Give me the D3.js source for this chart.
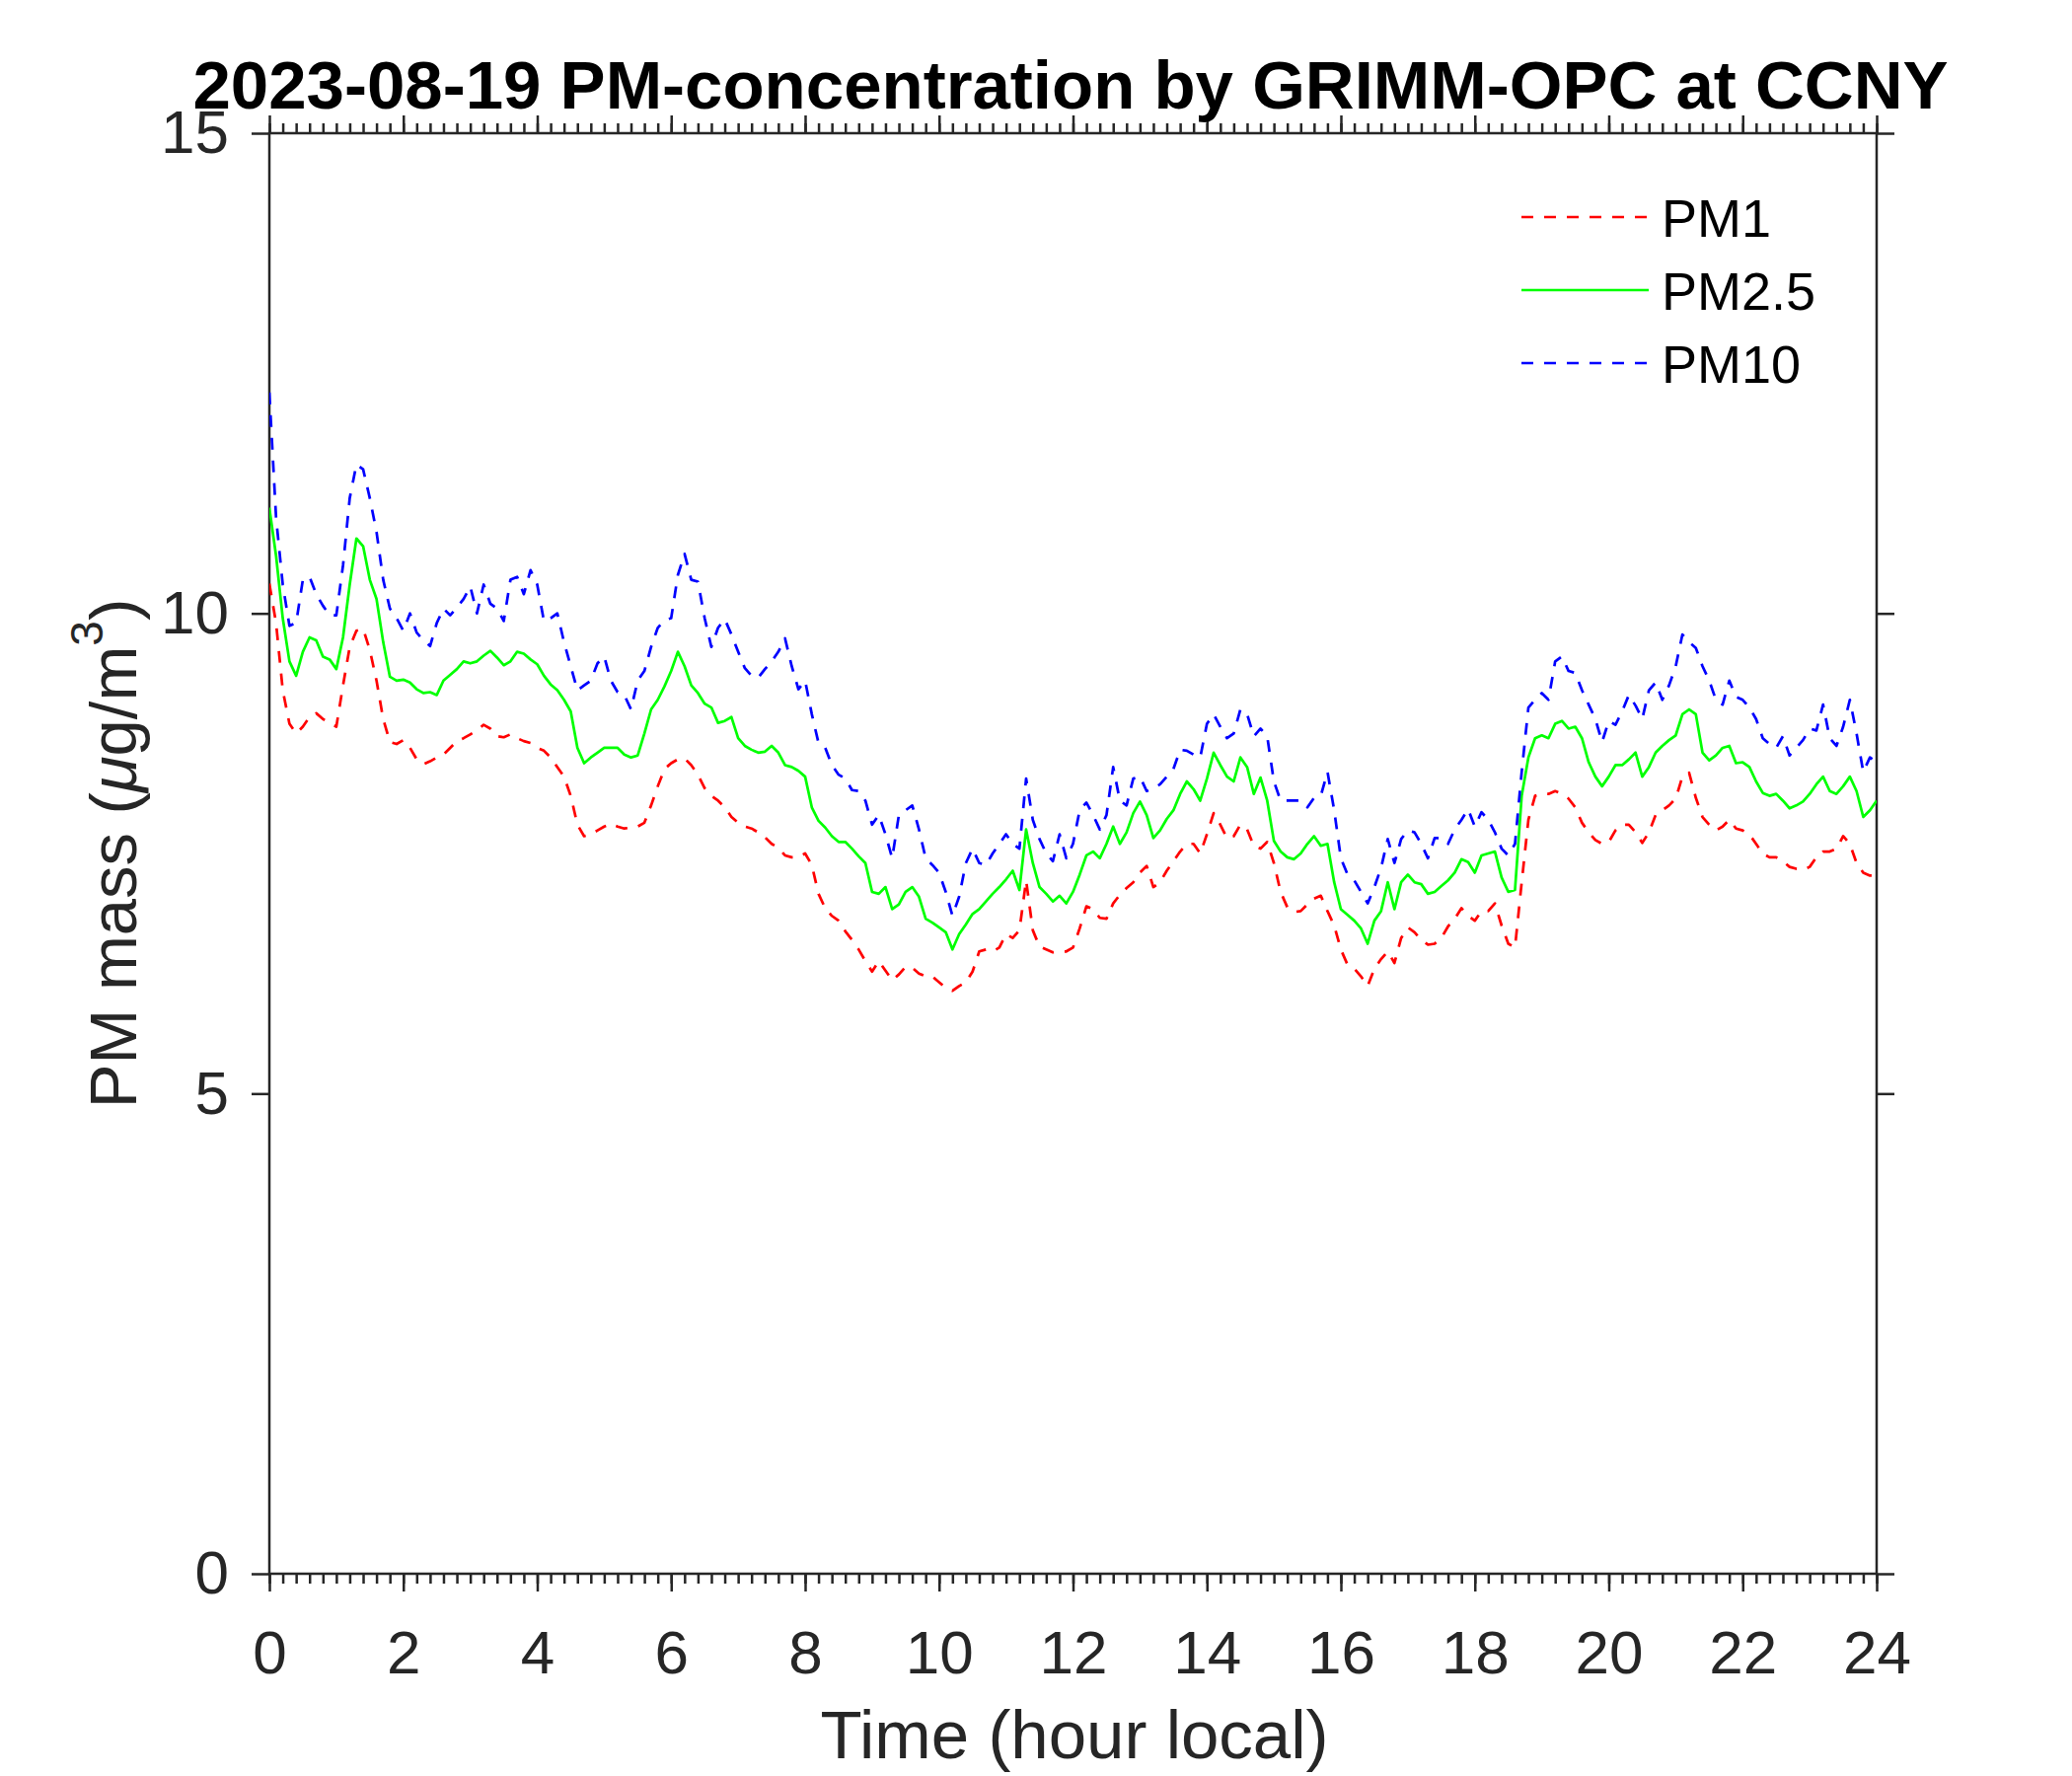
<!DOCTYPE html>
<html lang="en">
<head>
  <meta charset="UTF-8" />
  <title>2023-08-19 PM-concentration by GRIMM-OPC at CCNY</title>
  <script src="https://d3js.org/d3.v7.min.js"></script>
  <style>
    body { margin: 0; background: #fff; }
    svg { display: block; font-family: "Liberation Sans", Arial, Helvetica, sans-serif; }
  </style>
</head>
<body>
  <svg id="chart" width="2100" height="1800"></svg>
  <script>
    // samples every 0.1 h, from 0 to 24 h local
    const hourStart = 0;
    const hourStep = 0.1;

    const pm1 = [
      10.31, 9.9, 9.2, 8.85, 8.75, 8.82, 8.92, 8.96, 8.9, 8.86,
      8.82, 9.25, 9.65, 9.82, 9.84, 9.62, 9.3, 8.9, 8.66, 8.64,
      8.68, 8.6, 8.48, 8.43, 8.46, 8.5, 8.53, 8.6, 8.67, 8.7,
      8.74, 8.78, 8.84, 8.8, 8.72, 8.71, 8.74, 8.7, 8.67, 8.65,
      8.6, 8.57, 8.5, 8.4, 8.3, 8.1, 7.8, 7.68, 7.7, 7.74,
      7.78, 7.81, 7.78, 7.76, 7.77, 7.78, 7.82, 8.0, 8.2, 8.38,
      8.44, 8.48, 8.49, 8.42, 8.32, 8.18, 8.1, 8.05, 7.98, 7.88,
      7.82, 7.78, 7.76, 7.72, 7.67, 7.6, 7.56, 7.48, 7.46, 7.46,
      7.5, 7.38, 7.08, 6.93, 6.85, 6.8, 6.69, 6.6, 6.5, 6.38,
      6.27, 6.38, 6.28, 6.18, 6.24, 6.32, 6.31, 6.25, 6.22, 6.22,
      6.16, 6.1, 6.07, 6.12, 6.16, 6.27, 6.48, 6.5, 6.48, 6.52,
      6.66, 6.62, 6.7, 7.22, 6.7, 6.53, 6.5, 6.47, 6.48, 6.48,
      6.52, 6.72, 6.95, 6.92, 6.83, 6.82, 6.98, 7.07, 7.14, 7.2,
      7.3, 7.37, 7.15, 7.2, 7.32, 7.42, 7.52, 7.6, 7.6, 7.5,
      7.7, 7.92, 7.8, 7.66, 7.68, 7.8, 7.75, 7.58, 7.55, 7.62,
      7.4, 7.1, 6.94, 6.89, 6.9, 6.97, 7.03, 7.06, 6.9, 6.75,
      6.5, 6.34, 6.3, 6.22, 6.12, 6.3, 6.4, 6.48, 6.36, 6.62,
      6.73, 6.68, 6.6, 6.55, 6.56, 6.62, 6.74, 6.82, 6.93, 6.85,
      6.8, 6.9, 6.9, 6.98, 6.75, 6.56, 6.52, 7.2, 7.85, 8.1,
      8.12, 8.12, 8.15, 8.12, 8.07, 7.98, 7.82, 7.72, 7.64, 7.6,
      7.62, 7.74, 7.8, 7.8, 7.72, 7.61, 7.72, 7.9, 7.95, 8.0,
      8.07, 8.3, 8.34, 8.08, 7.88, 7.8, 7.74, 7.78, 7.85, 7.76,
      7.74, 7.7, 7.6, 7.5, 7.46, 7.46, 7.42, 7.36, 7.34, 7.33,
      7.36, 7.46, 7.52, 7.52, 7.55, 7.68, 7.6, 7.4, 7.3, 7.27,
      7.27
    ];

    const pm25 = [
      11.1, 10.6, 9.95, 9.5, 9.35, 9.6, 9.75, 9.72, 9.55, 9.52,
      9.42, 9.75, 10.3, 10.78, 10.7, 10.35, 10.15, 9.7, 9.34, 9.3,
      9.31, 9.28, 9.21, 9.17, 9.18, 9.15, 9.3, 9.36, 9.42, 9.5,
      9.48, 9.5, 9.56, 9.61, 9.54, 9.46, 9.5, 9.6, 9.58, 9.52,
      9.47, 9.35, 9.26, 9.2, 9.1, 8.98, 8.6, 8.44, 8.5, 8.55,
      8.6, 8.6, 8.6, 8.53, 8.5, 8.52, 8.75, 9.0, 9.1, 9.24,
      9.4, 9.6, 9.45, 9.25, 9.17, 9.06, 9.02, 8.86, 8.88, 8.92,
      8.7, 8.62, 8.58, 8.55, 8.56, 8.62, 8.55, 8.42, 8.4, 8.36,
      8.3, 7.98, 7.84, 7.77, 7.68, 7.62, 7.62, 7.55, 7.47, 7.4,
      7.1, 7.08, 7.15, 6.92, 6.97, 7.1, 7.15, 7.05, 6.82, 6.78,
      6.73, 6.68, 6.5, 6.66, 6.76, 6.87, 6.92, 7.0, 7.08, 7.15,
      7.23, 7.32, 7.12, 7.75, 7.4, 7.15, 7.08, 7.0, 7.06, 6.98,
      7.1, 7.28, 7.48, 7.52, 7.45, 7.6, 7.78, 7.6, 7.72, 7.92,
      8.04, 7.9, 7.66, 7.74, 7.86, 7.95, 8.12, 8.25, 8.17, 8.05,
      8.28, 8.55, 8.42, 8.3, 8.25, 8.5, 8.4, 8.12, 8.29, 8.05,
      7.63, 7.52, 7.46, 7.44, 7.5, 7.6, 7.68, 7.58, 7.6, 7.2,
      6.92, 6.86, 6.8, 6.72, 6.56, 6.8, 6.9, 7.2, 6.92, 7.2,
      7.28, 7.2, 7.18, 7.08, 7.1, 7.16, 7.22, 7.3, 7.44, 7.41,
      7.3, 7.48, 7.5, 7.52, 7.25, 7.1, 7.12, 8.1, 8.5, 8.7,
      8.73, 8.7, 8.85, 8.88, 8.8, 8.82, 8.7, 8.45, 8.3, 8.2,
      8.3, 8.42, 8.42, 8.48, 8.55, 8.3, 8.4, 8.55, 8.62, 8.68,
      8.73, 8.95, 9.0, 8.95, 8.55, 8.47, 8.52, 8.6, 8.62, 8.44,
      8.45, 8.4, 8.25, 8.13, 8.1, 8.12, 8.05, 7.97, 8.0, 8.04,
      8.12, 8.22, 8.3, 8.15, 8.12, 8.2, 8.3, 8.15, 7.88, 7.95,
      8.05
    ];

    const pm10 = [
      12.3, 11.0, 10.3, 9.87, 9.9, 10.35, 10.38, 10.2, 10.08, 9.98,
      9.98, 10.5, 11.2, 11.55, 11.5, 11.2, 10.85, 10.35, 10.05, 9.95,
      9.82, 10.0, 9.8, 9.72, 9.66, 9.9, 10.05, 9.98, 10.06, 10.15,
      10.28, 10.0, 10.3, 10.1, 10.05, 9.92, 10.35, 10.38, 10.2, 10.45,
      10.3, 9.92, 9.95, 10.0, 9.7, 9.45, 9.2, 9.25, 9.3, 9.48,
      9.55, 9.3, 9.18, 9.15, 9.0, 9.3, 9.4, 9.65, 9.85, 9.93,
      9.95, 10.4, 10.62, 10.35, 10.33, 9.95, 9.65, 9.85, 9.94, 9.78,
      9.6, 9.43, 9.35, 9.33, 9.42, 9.5, 9.6, 9.74, 9.45, 9.21,
      9.3, 8.95, 8.65, 8.6, 8.42, 8.32, 8.28, 8.16, 8.15, 8.05,
      7.8, 7.9, 7.7, 7.45, 7.9, 7.95, 8.0, 7.75, 7.45, 7.38,
      7.3, 7.1, 6.85, 7.05, 7.4, 7.55, 7.4, 7.38, 7.5, 7.6,
      7.7, 7.6, 7.55, 8.28, 7.85, 7.65, 7.5, 7.42, 7.7, 7.45,
      7.6, 7.95, 8.03, 7.9, 7.75, 7.9, 8.4, 8.05, 8.0, 8.28,
      8.3, 8.15, 8.18, 8.22, 8.3, 8.38, 8.58, 8.57, 8.53, 8.5,
      8.85, 8.95, 8.82, 8.7, 8.75, 9.0, 8.95, 8.72, 8.8, 8.72,
      8.25, 8.05, 8.05, 8.05, 8.05, 7.98, 8.08, 8.1, 8.35, 7.95,
      7.45, 7.28, 7.22, 7.1, 6.98, 7.15, 7.35, 7.65, 7.4, 7.65,
      7.74, 7.72, 7.6, 7.45, 7.66, 7.66, 7.6, 7.75, 7.85, 7.96,
      7.78, 7.93, 7.85, 7.72, 7.55, 7.48, 7.6, 8.35, 9.02, 9.1,
      9.17, 9.1, 9.5, 9.55, 9.4, 9.38, 9.2, 9.05, 8.9, 8.66,
      8.88, 8.84, 8.98, 9.15, 9.04, 8.9, 9.2, 9.28, 9.1, 9.25,
      9.45, 9.78, 9.7, 9.64, 9.45, 9.3, 9.1, 9.05, 9.3, 9.13,
      9.1, 9.02, 8.9, 8.7, 8.64, 8.6, 8.72, 8.52, 8.6, 8.68,
      8.8, 8.78, 9.05, 8.7, 8.62, 8.82, 9.1, 8.75, 8.35, 8.5,
      8.45
    ];

    const seriesNames = ["PM1", "PM2.5", "PM10"];
    const seriesColors = ["#ff0000", "#00ff00", "#0000ff"];
    const seriesDash = ["12,11", null, "12,11"];

    const xTicks = [0, 2, 4, 6, 8, 10, 12, 14, 16, 18, 20, 22, 24];
    const yTicks = [0, 5, 10, 15];

    const titleText = "2023-08-19 PM-concentration by GRIMM-OPC at CCNY";
    const xLabelText = "Time (hour local)";

    const axisColor = "#262626";
    const fontFamily = '"Liberation Sans", Arial, Helvetica, sans-serif';

    const svg = d3.select("#chart");
    const plotLeft = 273, plotRight = 1902, plotTop = 135, plotBottom = 1595;

    const x = d3.scaleLinear().domain([0, 24]).range([plotLeft, plotRight]);
    const y = d3.scaleLinear().domain([0, 15]).range([plotBottom, plotTop]);

    const minorTicks = d3.range(0, 24.0001, 0.2);

    function styleAxis(g, fontSize) {
      g.attr("font-family", fontFamily).attr("font-size", fontSize);
      g.select(".domain").remove();
      g.selectAll(".tick line").attr("stroke", axisColor).attr("stroke-width", 2.5);
      g.selectAll(".tick text").attr("fill", axisColor);
    }

    // bottom axis: minor then major with labels
    svg.append("g").attr("transform", `translate(0,${plotBottom})`)
      .call(d3.axisBottom(x).tickValues(minorTicks).tickSize(10).tickFormat(""))
      .call(g => styleAxis(g, 62));
    svg.append("g").attr("transform", `translate(0,${plotBottom})`)
      .call(d3.axisBottom(x).tickValues(xTicks).tickSize(18).tickPadding(39).tickFormat(d3.format("d")))
      .call(g => styleAxis(g, 62));

    // top axis, ticks only
    svg.append("g").attr("transform", `translate(0,${plotTop})`)
      .call(d3.axisTop(x).tickValues(minorTicks).tickSize(10).tickFormat(""))
      .call(g => styleAxis(g, 62));
    svg.append("g").attr("transform", `translate(0,${plotTop})`)
      .call(d3.axisTop(x).tickValues(xTicks).tickSize(18).tickFormat(""))
      .call(g => styleAxis(g, 62));

    // left axis with labels, right axis ticks only
    svg.append("g").attr("transform", `translate(${plotLeft},0)`)
      .call(d3.axisLeft(y).tickValues(yTicks).tickSize(18).tickPadding(23).tickFormat(d3.format("d")))
      .call(g => styleAxis(g, 62));
    svg.append("g").attr("transform", `translate(${plotRight},0)`)
      .call(d3.axisRight(y).tickValues(yTicks).tickSize(18).tickFormat(""))
      .call(g => styleAxis(g, 62));

    // box
    svg.append("rect")
      .attr("x", plotLeft).attr("y", plotTop)
      .attr("width", plotRight - plotLeft).attr("height", plotBottom - plotTop)
      .attr("fill", "none").attr("stroke", axisColor).attr("stroke-width", 2.5);

    svg.append("clipPath").attr("id", "plot-clip")
      .append("rect")
      .attr("x", plotLeft).attr("y", plotTop)
      .attr("width", plotRight - plotLeft).attr("height", plotBottom - plotTop);

    const line = d3.line()
      .x((d, i) => x(hourStart + i * hourStep))
      .y(d => y(d));

    const allSeries = [pm1, pm25, pm10];
    svg.append("g").attr("clip-path", "url(#plot-clip)")
      .selectAll("path")
      .data(allSeries)
      .join("path")
      .attr("d", d => line(d))
      .attr("fill", "none")
      .attr("stroke", (d, i) => seriesColors[i])
      .attr("stroke-width", 2.7)
      .attr("stroke-linejoin", "round")
      .attr("stroke-dasharray", (d, i) => seriesDash[i]);

    // legend
    const legend = svg.append("g").attr("font-family", fontFamily).attr("font-size", 54);
    const legendRows = [220, 294, 368];
    seriesNames.forEach((name, i) => {
      legend.append("line")
        .attr("x1", 1542).attr("x2", 1671)
        .attr("y1", legendRows[i]).attr("y2", legendRows[i])
        .attr("stroke", seriesColors[i]).attr("stroke-width", 2.7)
        .attr("stroke-dasharray", seriesDash[i]);
      legend.append("text")
        .attr("x", 1684).attr("y", legendRows[i] + 20)
        .attr("fill", "#000")
        .text(name);
    });

    // title
    svg.append("text")
      .attr("x", 1085).attr("y", 110)
      .attr("text-anchor", "middle")
      .attr("font-family", fontFamily).attr("font-size", 69).attr("font-weight", "bold")
      .attr("fill", "#000")
      .text(titleText);

    // x label
    svg.append("text")
      .attr("x", 1089).attr("y", 1782)
      .attr("text-anchor", "middle")
      .attr("font-family", fontFamily).attr("font-size", 69)
      .attr("fill", axisColor)
      .text(xLabelText);

    // y label: PM mass (μg/m³)
    const yLabel = svg.append("text")
      .attr("transform", `translate(138,${(plotTop + plotBottom) / 2}) rotate(-90)`)
      .attr("text-anchor", "middle")
      .attr("font-family", fontFamily).attr("font-size", 67)
      .attr("fill", axisColor);
    yLabel.append("tspan").text("PM mass (");
    yLabel.append("tspan").attr("font-style", "italic").text("\u03bc");
    yLabel.append("tspan").text("g/m");
    yLabel.append("tspan").attr("font-size", 46).attr("dy", -34).text("3");
    yLabel.append("tspan").attr("dy", 34).text(")");
  </script>
</body>
</html>
